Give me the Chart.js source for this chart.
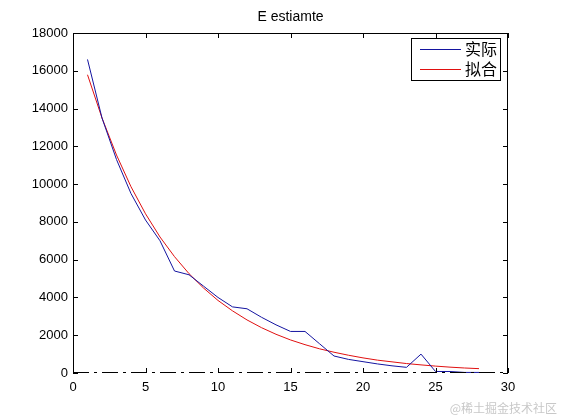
<!DOCTYPE html>
<html>
<head>
<meta charset="utf-8">
<script src="https://cdn.jsdelivr.net/npm/chart.js@4.4.0/dist/chart.umd.min.js"></script>
<style>
  html, body { margin: 0; padding: 0; background: #fff; }
  #wrap { width: 561px; height: 420px; }
</style>
</head>
<body>
<div id="wrap"><canvas id="Demo" width="561" height="420"></canvas></div>
<script>
// x = 1..28
let xler = [1, 2, 3, 4, 5, 6, 7, 8, 9, 10, 11, 12, 13, 14, 15, 16, 17, 18, 19, 20, 21, 22, 23, 24, 25, 26, 27, 28];
let gercek = [16600, 13500, 11300, 9500, 8100, 7000, 5400, 5200, 4600, 4000, 3500, 3400, 2950, 2550, 2200, 2200,
              1550, 900, 720, 600, 480, 380, 300, 1000, 80, 80, 30, 30];
let uydurma = [15790, 13500, 11540, 9860, 8430, 7200, 6160, 5260, 4500, 3840, 3290, 2810, 2400, 2050, 1750, 1500,
               1280, 1100, 940, 800, 680, 590, 500, 430, 365, 310, 265, 230];
let etiketler = ['实际', '拟合'];
let baslik = 'E estiamte';
let xTicks = [0, 5, 10, 15, 20, 25, 30];
let yTicks = [0, 2000, 4000, 6000, 8000, 10000, 12000, 14000, 16000, 18000];

let renkler = ['#1414a0', '#e01010'];

function noktalar(ys) {
  return xler.map((x, i) => ({ x: x, y: ys[i] }));
}

// MATLAB style box: title, inward ticks on all 4 sides, dash-dot bottom, legend box, watermark
let kutuEklentisi = {
  id: 'kutu',
  afterDraw(chart) {
    let ctx = chart.ctx;
    let a = chart.chartArea;
    let xs = chart.scales.x, ys = chart.scales.y;
    ctx.save();

    ctx.fillStyle = '#000';
    ctx.font = '14px "Liberation Sans"';
    ctx.textAlign = 'center';
    ctx.textBaseline = 'middle';
    ctx.fillText(baslik, (a.left + a.right) / 2, 17);

    ctx.strokeStyle = '#000';
    ctx.lineWidth = 1;
    ctx.beginPath();
    ctx.moveTo(a.left + 0.5, a.bottom);
    ctx.lineTo(a.left + 0.5, a.top + 0.5);
    ctx.lineTo(a.right - 0.5, a.top + 0.5);
    ctx.lineTo(a.right - 0.5, a.bottom);
    let t = 5;
    xTicks.forEach(v => {
      let px = Math.round(xs.getPixelForValue(v)) + 0.5;
      ctx.moveTo(px, a.top); ctx.lineTo(px, a.top + t);
      ctx.moveTo(px, a.bottom); ctx.lineTo(px, a.bottom - t);
    });
    yTicks.forEach(v => {
      let py = Math.round(ys.getPixelForValue(v)) + 0.5;
      ctx.moveTo(a.left, py); ctx.lineTo(a.left + t, py);
      ctx.moveTo(a.right, py); ctx.lineTo(a.right - t, py);
    });
    ctx.stroke();
    ctx.beginPath();
    ctx.setLineDash([16, 5, 3, 5]);
    ctx.moveTo(a.left, a.bottom - 0.5);
    ctx.lineTo(a.right, a.bottom - 0.5);
    ctx.stroke();
    ctx.setLineDash([]);

    // legend
    let lw = 89, lh = 42;
    let lx = a.right - 8 - lw, ly = a.top + 5;
    ctx.fillStyle = '#fff';
    ctx.fillRect(lx, ly, lw, lh);
    ctx.strokeStyle = '#000';
    ctx.strokeRect(lx + 0.5, ly + 0.5, lw, lh);
    ctx.font = '16px "Noto Sans CJK SC"';
    ctx.textAlign = 'left';
    ctx.textBaseline = 'middle';
    etiketler.forEach((lab, i) => {
      let yy = ly + 11 + i * 20;
      ctx.fillStyle = renkler[i];
      ctx.fillRect(lx + 9, yy, 41, 1);
      ctx.fillStyle = '#000';
      ctx.fillText(lab, lx + 54, yy);
    });

    // watermark
    ctx.font = '12px "Noto Sans CJK SC"';
    ctx.fillStyle = '#c8c8c8';
    ctx.textAlign = 'right';
    ctx.textBaseline = 'alphabetic';
    ctx.fillText('@稀土掘金技术社区', 557, 413);
    ctx.restore();
  }
};

let kanvas = document.getElementById('Demo');

let grafik = new Chart(kanvas, {
  type: 'line',
  data: {
    datasets: [
      { label: etiketler[0], data: noktalar(gercek), borderColor: renkler[0], borderWidth: 1, pointRadius: 0, tension: 0, fill: false },
      { label: etiketler[1], data: noktalar(uydurma), borderColor: renkler[1], borderWidth: 1, pointRadius: 0, tension: 0, fill: false }
    ]
  },
  options: {
    responsive: false,
    animation: false,
    events: [],
    layout: { padding: { left: 0, right: 53, top: 33, bottom: 0 } },
    plugins: {
      legend: { display: false },
      tooltip: { enabled: false },
      title: { display: false }
    },
    scales: {
      x: {
        type: 'linear',
        min: 0, max: 30,
        afterFit(s) { s.height = 47; },
        afterBuildTicks(s) { s.ticks = xTicks.map(v => ({ value: v })); },
        grid: { display: false, drawTicks: false },
        border: { display: false },
        ticks: { color: '#000', padding: 7, maxRotation: 0, font: { family: 'Liberation Sans', size: 13 } }
      },
      y: {
        type: 'linear',
        min: 0, max: 18000,
        afterFit(s) { s.width = 73; },
        afterBuildTicks(s) { s.ticks = yTicks.map(v => ({ value: v })); },
        grid: { display: false, drawTicks: false },
        border: { display: false },
        ticks: { color: '#000', padding: 5, font: { family: 'Liberation Sans', size: 13 }, callback: v => String(v) }
      }
    }
  },
  plugins: [kutuEklentisi]
});
</script>
</body>
</html>
